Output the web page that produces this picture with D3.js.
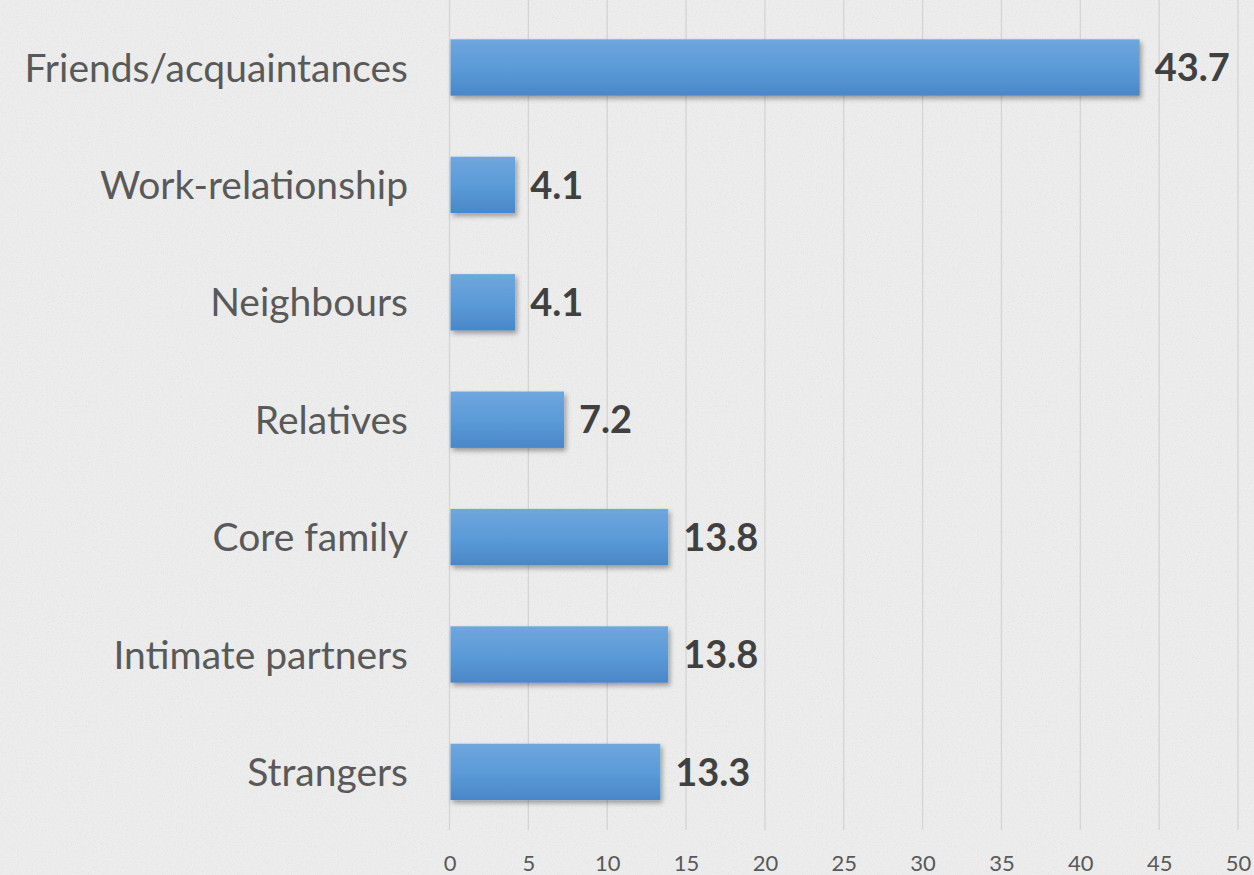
<!DOCTYPE html>
<html lang="en">
  <head>
    <meta charset="utf-8">
    <title>Relationship bar chart</title>
    <script src="https://d3js.org/d3.v7.min.js"></script>
    <style>
      html, body { margin: 0; padding: 0; background: #ececec; }
      svg { display: block; }
      .cat { font-family: Lato, "Open Sans", sans-serif; font-size: 39px; fill: #595959; }
      .val { font-family: Lato, "Open Sans", sans-serif; font-size: 38px; font-weight: bold; fill: #404040; }
      .tick text { font-family: Lato, "Open Sans", sans-serif; font-size: 22px; fill: #595959; }
    </style>
  </head>
  <body>
    <svg id="chart" width="1254" height="875"></svg>
    <script>
        // data, top to bottom as in the picture
        var categories = ["Friends/acquaintances", "Work-relationship", "Neighbours",
                          "Relatives", "Core family", "Intimate partners", "Strangers"];
        var values = [43.7, 4.1, 4.1, 7.2, 13.8, 13.8, 13.3];
        var tickValues = [0, 5, 10, 15, 20, 25, 30, 35, 40, 45, 50];

        var svg = d3.select('#chart');

        // faint paper texture
        var defs = svg.append('defs');
        var f = defs.append('filter').attr('id', 'paper');
        f.append('feTurbulence').attr('type', 'fractalNoise')
            .attr('baseFrequency', 0.8).attr('numOctaves', 2).attr('seed', 3);
        f.append('feColorMatrix').attr('type', 'matrix')
            .attr('values', '0 0 0 0 0.6  0 0 0 0 0.6  0 0 0 0 0.6  0 0 0 -1.8 0.85');

        var grad = defs.append('linearGradient').attr('id', 'barfill')
            .attr('x1', 0).attr('y1', 0).attr('x2', 0).attr('y2', 1);
        grad.append('stop').attr('offset', '0%').attr('stop-color', '#6fa6dd');
        grad.append('stop').attr('offset', '50%').attr('stop-color', '#5b9bd8');
        grad.append('stop').attr('offset', '100%').attr('stop-color', '#4a87c8');

        var sh = defs.append('filter').attr('id', 'shadow')
            .attr('x', '-5%').attr('y', '-20%').attr('width', '115%').attr('height', '160%');
        sh.append('feDropShadow').attr('dx', 2).attr('dy', 3).attr('stdDeviation', 2.5)
            .attr('flood-color', '#000').attr('flood-opacity', 0.35);

        svg.append('rect').attr('width', 1254).attr('height', 875).attr('fill', '#ececec');
        svg.append('rect').attr('width', 1254).attr('height', 875).attr('filter', 'url(#paper)').attr('opacity', 0.45);

        var x = d3.scaleLinear().domain([0, 50]).range([449.5, 1238]);
        var y = d3.scaleBand().domain(categories).range([8.8, 830.6])
            .paddingInner(0.52).paddingOuter(0.26);

        // vertical gridlines
        svg.append('g').selectAll('line')
            .data(tickValues)
            .enter()
            .append('line')
            .attr('x1', function(d){ return x(d); })
            .attr('x2', function(d){ return x(d); })
            .attr('y1', 0)
            .attr('y2', 830)
            .attr('stroke', '#d4d4d4')
            .attr('stroke-width', 1.3);

        // x axis tick labels
        var axis = svg.append('g')
            .attr('transform', 'translate(0,855)')
            .call(d3.axisBottom(x).tickValues(tickValues).tickSize(0).tickPadding(0));
        axis.select('.domain').remove();
        axis.selectAll('.tick text').attr('dy', '0.71em');

        // bars
        svg.append('g').selectAll('rect')
            .data(values)
            .enter()
            .append('rect')
            .attr('x', x(0) + 1)
            .attr('y', function(d, i){ return y(categories[i]); })
            .attr('width', function(d){ return x(d) - x(0); })
            .attr('height', y.bandwidth())
            .attr('fill', 'url(#barfill)')
            .attr('filter', 'url(#shadow)');

        // category labels
        svg.append('g').selectAll('text')
            .data(categories)
            .enter()
            .append('text')
            .attr('class', 'cat')
            .attr('x', 408)
            .attr('y', function(d){ return y(d) + y.bandwidth() / 2; })
            .attr('dy', '0.36em')
            .attr('text-anchor', 'end')
            .text(function(d){ return d; });

        // value labels
        svg.append('g').selectAll('text')
            .data(values)
            .enter()
            .append('text')
            .attr('class', 'val')
            .attr('x', function(d){ return x(d) + 16; })
            .attr('y', function(d, i){ return y(categories[i]) + y.bandwidth() / 2; })
            .attr('dy', '0.36em')
            .text(function(d){ return d.toFixed(1); });
    </script>
  </body>
</html>
